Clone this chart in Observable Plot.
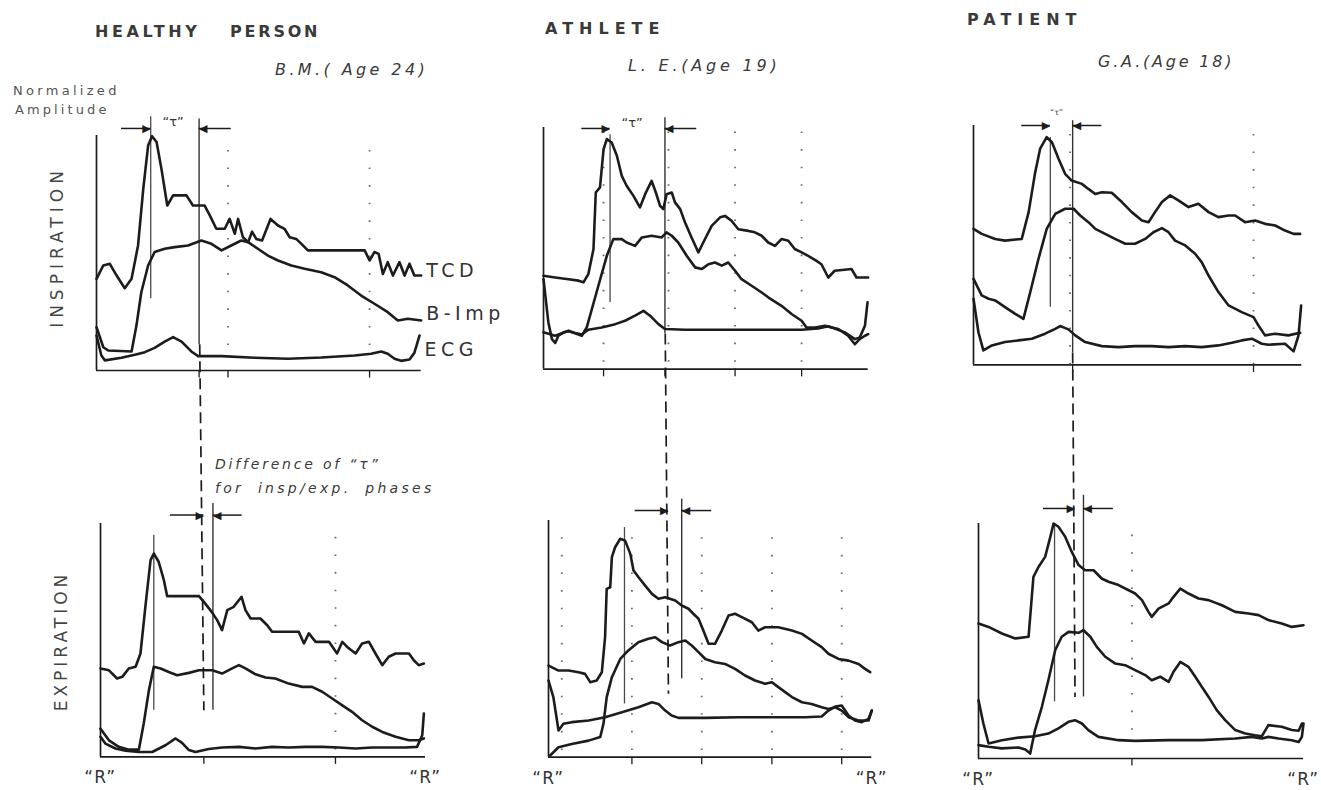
<!DOCTYPE html>
<html><head><meta charset="utf-8">
<script src="https://cdn.jsdelivr.net/npm/d3@7"></script>
<script src="https://cdn.jsdelivr.net/npm/@observablehq/plot@0.6"></script>
<style>
html,body{margin:0;padding:0;background:#fff;}
#page{position:relative;width:1321px;height:790px;overflow:hidden;font-family:"DejaVu Sans",sans-serif;color:#3a3a3a;}
.lbl{position:absolute;white-space:pre;line-height:1;}
</style></head><body><div id="page"></div>
<script>
// ---------- DATA (x = % of R–R interval, y = normalized amplitude %) ----------
const seriesNames = ["TCD", "B-Imp", "ECG"];
const subjectTitles = ["HEALTHY", "PERSON", "ATHLETE", "PATIENT"];
const subjectIds = ["B.M.( Age 24)", "L. E.(Age 19)", "G.A.(Age 18)"];
const phaseNames = ["INSPIRATION", "EXPIRATION"];
const axisNote = ["Normalized", "Amplitude"];
const diffNote = ["Difference of \u201C\u03C4\u201D", "for insp/exp. phases"];
const tauLabel = "\u201C\u03C4\u201D";
const rLabel = "\u201CR\u201D";

const healthyInspTCD = [[0,39],[2.1,44.7],[4.1,45.4],[6.2,40.4],[8.7,35],[10.8,39],[12.8,53.2],[14.4,77.3],[15.9,95.7],[17.1,99.7],[18.5,97.2],[20,85.8],[21.8,70.2],[23.6,74.5],[27.7,74.5],[29.7,70.2],[33.3,70.2],[34.9,66],[36.9,60.3],[39.5,60.3],[41,64.5],[42.6,58.2],[43.6,64.5],[45.1,56.7],[46.7,54.6],[47.9,59.1],[49.2,56],[51,55.3],[53.6,64.5],[55.9,61.7],[57.9,60.3],[59.5,56.7],[61.5,56],[63.1,53.9],[65.1,51.1],[82.6,51.1],[84.1,46.8],[85.6,50.4],[86.9,49.6],[88.2,41.1],[89.7,46.1],[91.3,40.4],[93.3,46.1],[94.9,40.4],[96.4,45.4],[97.9,40.4],[100,40.4]];
const healthyInspBImp = [[0,18.4],[2.1,9.9],[3.6,8.5],[10.8,8.1],[12.3,19.1],[13.8,33.3],[15.9,44.7],[17.9,50.4],[21,51.8],[24.1,52.5],[28.2,53.2],[32.3,55.3],[35.4,53.9],[38.5,51.1],[41.5,53.2],[44.6,55.3],[46.7,54.6],[49.7,51.8],[52.8,48.9],[55.9,46.8],[60,44.7],[64.1,43.3],[69.2,41.8],[73.3,39.7],[77.4,36.2],[81.5,31.9],[85.6,28.4],[89.7,24.8],[92.8,21.3],[95.9,22],[100,21.3]];
const healthyInspECG = [[0,14.9],[1.5,6.4],[2.6,4.3],[7.7,5.4],[11.8,6.7],[14.9,7.8],[17.9,9.6],[21,12.3],[23.6,14.2],[26.2,12.3],[29.2,8.1],[31.3,6.1],[38.5,6.1],[48.7,5.4],[59,5],[69.2,5.5],[79.5,6.4],[84.6,7.1],[87.7,8.1],[89.7,7.1],[91.8,5],[93.8,4.1],[96.4,4.7],[97.9,7.5],[99.5,14.9]];

const athleteInspTCD = [[0,38.6],[3.6,37.9],[7.7,37.2],[10.8,36.6],[12.3,35.9],[13.8,39.3],[15.4,49.7],[16.1,73.1],[17.4,75.2],[18.5,91],[19.5,95.2],[21,93.8],[22.6,88.3],[24.1,80],[25.6,75.9],[27.7,71.7],[29.7,66.9],[31.3,72.4],[33.3,77.9],[34.6,73.1],[35.9,67.6],[36.9,66.2],[37.9,72.4],[39.5,73.1],[40.5,69],[42.1,66.2],[43.6,60.7],[45.6,54.5],[47.7,48.3],[49.2,52.4],[51.8,59.3],[54.4,62.8],[55.9,63.4],[57.9,61.4],[60,57.9],[63.1,57.2],[65.1,56.6],[67.2,55.2],[69.2,52.4],[71.3,51],[73.3,53.8],[75.4,53.1],[77.4,49.7],[79.5,48.3],[81.5,46.9],[84.1,44.8],[85.6,43.4],[87.7,37.9],[89.7,40.7],[94.9,41.4],[96.4,37.9],[100,37.9]];
const athleteInspBImp = [[0,15.2],[3.6,13.8],[7.7,15.9],[11.8,13.8],[13.3,17.2],[16.9,34.5],[19.5,46.9],[21.5,53.8],[24.1,53.8],[25.6,52.4],[28.2,51],[30.3,54.5],[33.3,55.2],[36.4,54.5],[37.9,56.6],[39.5,55.2],[41.5,52.4],[44.1,46.9],[46.7,42.1],[48.7,41.4],[50.8,43.4],[52.8,44.1],[54.9,42.8],[56.9,44.1],[59,40.7],[61,37.2],[64.1,34.5],[67.2,31.7],[69.2,29.7],[73.3,26.2],[76.4,22.8],[79.5,20],[81,17.2],[83.6,17.2],[86.7,17.9],[88.7,17.2],[90.8,16.6],[93.8,13.8],[95.9,10.3],[97.4,12.4],[99,13.8],[100,14.5]];
const athleteInspECG = [[0,37.2],[1.5,19.3],[2.6,12.4],[3.6,10.8],[4.6,13.8],[6.2,15.2],[7.7,15.7],[9.7,14.9],[11.8,14.3],[13.8,16.3],[17.9,17.2],[22.1,18.6],[25.1,20],[28.2,22.1],[30.8,24.1],[32.8,22.1],[35.4,18.6],[37.4,16.6],[43.6,16.3],[59,16.3],[79.5,16.3],[84.6,16.8],[87.7,17.7],[89.7,16.8],[92.8,15.2],[95.9,12.4],[97.4,13.1],[99,17.9],[99.8,27.6]];

const patientInspTCD = [[0,56.8],[2.5,54.7],[6.6,52.6],[9.6,51.9],[14.7,52.6],[16.8,63.8],[18.8,80.5],[20.3,90.3],[22.3,95.1],[23.9,93],[25.9,86.1],[27.9,79.8],[29.9,77],[33,75.6],[35,73.5],[37.1,71.4],[39.1,72.1],[42.1,71.9],[45.2,68],[48.2,63.8],[51.3,60.3],[53.3,59.6],[55.3,63.8],[57.4,68],[59.9,70.8],[62.4,68.7],[65.5,65.9],[68.5,67.3],[71.6,63.8],[74.6,61.7],[77.7,62.4],[79.7,62.4],[82.7,59.6],[85.8,60.3],[88.8,58.9],[91.9,58.2],[94.9,56.1],[97.5,54.7],[99.5,54.7]];
const patientInspBImp = [[0,35.9],[2.5,29],[4.6,27.6],[6.6,26.9],[9.6,24.1],[12.7,21.3],[15.2,19.2],[17.3,30.4],[19.8,44.3],[22.3,56.8],[24.9,63.1],[27.9,65.2],[30.5,65.2],[32.5,62.4],[35,59.6],[37.1,56.8],[40.1,54.7],[43.1,52.6],[46.2,50.6],[49.2,50.6],[52.3,52.6],[54.8,55.4],[57.4,57.1],[59.4,55.4],[61.4,51.9],[64.5,49.9],[67.5,46.4],[69.5,42.9],[71.6,37.3],[74.6,30.4],[77.7,24.8],[81.7,22],[85.3,19.9],[86.8,16.4],[88.8,12.3],[91.9,13],[95.9,12.3],[99.5,13.4]];
const patientInspECG = [[0,27.6],[1.5,13.6],[3,6],[5.6,8.1],[9.6,9.5],[13.7,10.2],[17.8,10.9],[21.8,13],[24.9,15],[26.4,16.2],[28.9,14.8],[31,12.3],[34,9.5],[39.1,7.8],[44.2,7.4],[49.2,7.8],[54.3,7.8],[59.4,7.4],[64.5,7.8],[69.5,7.4],[74.6,8.1],[78.7,9.2],[81.7,10.2],[84.8,10.9],[87.8,8.8],[89.8,8.4],[94.9,8.8],[97.5,5.6],[99,12.3],[99.8,24.8]];

const healthyExpTCD = [[0,37.9],[2.6,37.1],[5.1,33.6],[6.7,34.3],[8.7,37.9],[10.8,38.6],[12.3,44.3],[13.8,64.3],[15.4,84.3],[16.4,87.1],[17.9,83.6],[19.5,75.7],[20.5,68.9],[23.1,68.9],[30.3,68.9],[31.8,66.4],[33.8,62.9],[35.9,58.6],[37.4,54.3],[39,62.9],[41,64.3],[43.4,68.6],[44.6,62.9],[46.2,59.3],[49.2,59.3],[51.3,56.4],[52.8,53.6],[61,53.6],[62.6,48.6],[64.1,52.9],[66.2,49.3],[70.3,49.3],[72.8,44.3],[74.4,49.3],[75.9,47.1],[78.5,44.3],[80.5,48.6],[82.6,49.3],[84.6,44.3],[86.7,39.3],[88.7,42.9],[90.8,44.3],[94.9,44.3],[96.4,41.4],[97.9,39.3],[99.5,40]];
const healthyExpBImp = [[0,12.1],[2.6,7.1],[5.6,4.3],[8.7,3.1],[11.8,3.1],[13.3,14.3],[14.9,28.6],[16.4,38.6],[18.5,37.9],[21,36.4],[23.6,35],[27.2,36],[30.3,37.1],[34.4,37.1],[37.4,35.7],[40.5,37.9],[42.6,39.3],[44.6,37.9],[47.7,35.4],[50.8,34],[53.8,33.6],[57.9,31.4],[62.1,30],[65.1,30],[68.2,27.9],[71.3,25],[74.4,22.1],[77.4,19.3],[80.5,15.7],[83.6,12.9],[86.7,10.7],[90.8,8.6],[94.9,7.1],[97.9,7.1],[99.5,7.9]];
const healthyExpECG = [[0,8.6],[1.5,5.7],[4.6,3.6],[7.7,2.6],[11.8,2.1],[15.9,2.1],[20,5],[23.1,7.9],[25.1,6],[27.2,2.9],[29.2,2.1],[33.3,3.4],[37.4,4],[42.6,4.3],[47.7,3.6],[52.8,4.3],[57.9,4],[63.1,4.3],[68.2,4.3],[73.3,4],[78.5,3.6],[83.6,4],[88.7,4],[93.8,4],[97.4,4.3],[99,9.3],[99.5,18.6]];

const athleteExpTCD = [[0,38.7],[3.1,36.6],[6.2,36.6],[9.3,35.9],[11.3,35.2],[12.9,31.7],[14.9,32.4],[16.5,35.9],[17.5,50.7],[18,71.1],[19.1,71.8],[19.6,84.5],[20.6,88.7],[22.2,92.3],[23.7,91.5],[25.3,85.9],[26.3,78.9],[27.8,76.1],[29.9,72.5],[32,69],[34,66.9],[36.1,67.6],[39.2,66.2],[41.2,64.1],[43.3,62.7],[44.8,60.6],[46.4,58.5],[47.9,53.5],[49.5,47.9],[51.5,47.9],[53.6,53.5],[55.7,59.9],[57.7,60.6],[59.8,59.2],[62.9,57],[64.9,53.5],[67,54.9],[71.1,54.9],[75.3,53.5],[78.4,52.1],[81.4,49.3],[84.5,46.5],[86.6,43.7],[89.7,41.5],[92.8,40.8],[95.9,39.4],[97.9,37.3],[99.5,35.9]];
const athleteExpBImp = [[0.5,0.7],[3.1,4.2],[7.2,5.6],[12.4,7],[16,8.5],[17,14.1],[18,25.4],[19.6,33.8],[22.2,41.5],[24.7,45.1],[27.8,48.6],[30.9,50],[33,50.7],[35.1,48.6],[37.6,47.2],[40.2,48.6],[42.3,49.3],[44.3,47.2],[46.4,44.4],[48.5,41.5],[51.5,40.1],[54.6,39.4],[57.7,37.3],[60.8,34.5],[63.9,32.4],[67,31],[69.1,31.7],[71.1,29.6],[73.2,27.5],[75.3,25.4],[78.4,23.2],[81.4,22.5],[84.5,21.1],[86.6,20.4],[88.7,21.1],[90.7,19.7],[92.8,16.9],[95.9,15.5],[99,15.5],[100,19.7]];
const athleteExpECG = [[0,32.4],[1.5,25.4],[3.1,11.3],[4.6,14.1],[7.2,14.8],[12.4,15.5],[17.5,16.9],[22.7,19],[27.8,21.1],[32,23.2],[34,22.5],[36.1,19.7],[38.1,17.6],[40.2,16.6],[48.5,16.6],[58.8,16.9],[69.1,16.9],[79.4,16.9],[84.5,17.2],[86.6,19.7],[88.7,21.4],[90.7,21.8],[92.8,17.6],[94.8,15.5],[96.9,14.8],[99,16.2],[100,19.7]];

const patientExpTCD = [[0,57.4],[3.1,56],[7.2,53.2],[11.3,51.1],[15.4,51.8],[16.9,77.3],[18.5,81.6],[20.5,85.8],[22.1,94.3],[23.1,100],[24.6,98.6],[26.7,94.3],[28.7,87.9],[30.8,82.3],[32.8,80.1],[35.4,80.1],[37.9,76.6],[40,75.2],[43.1,73.8],[46.2,71.6],[48.2,70.2],[50.3,67.4],[52.3,62.4],[53.3,60.3],[55.4,63.8],[58.5,66],[60,68.8],[62.1,72.3],[64.6,70.2],[67.7,68.1],[70.8,67.4],[74.9,65.2],[79,62.4],[83.1,61.7],[86.2,61],[89.2,58.9],[93.3,57.4],[96.4,56],[100,56.7]];
const patientExpBImp = [[0,5.7],[3.1,5],[7.2,4.3],[12.3,4.7],[14.4,3.8],[15.9,2.1],[17.4,12.1],[19.5,22],[21.5,33.3],[23.6,46.1],[25.6,51.8],[27.7,53.9],[30.8,53.5],[32.3,54.6],[34.4,51.8],[36.4,47.5],[39,43.3],[42.1,40.4],[45.1,39.7],[48.2,37.6],[51.3,35.5],[53.3,33.3],[55.9,34.8],[58.5,32.6],[60,36.9],[62.1,41.1],[64.6,39],[66.7,34.8],[68.7,30.5],[70.8,26.2],[73.3,20.6],[75.9,16.3],[79,12.1],[82.1,10.6],[85.1,9.9],[87.2,9.5],[89.2,14.2],[93.3,13.5],[96.4,12.1],[98.5,11.8],[99.5,14.9]];
const patientExpECG = [[0,24.8],[1.5,14.9],[3.1,6.4],[7.2,7.8],[12.3,8.9],[17.4,9.5],[21.5,10.6],[24.6,12.8],[27.7,15.6],[29.7,16.3],[31.8,14.9],[33.8,12.1],[36.9,9.2],[43.1,7.8],[48.2,7.5],[58.5,7.8],[68.7,7.8],[79,8.5],[84.1,9.2],[87.2,8.5],[89.2,9.2],[92.3,8.5],[96.4,7.8],[98.5,7],[99.5,9.2],[100,14.9]];

// panel order: healthy insp, athlete insp, patient insp, healthy exp, athlete exp, patient exp
const peakTimes      = [16.7, 20.5, 23.4, 16.4, 23.5, 23.4];
const peakMarkTop    = [108, 97, 95, 95, 97, 100];
const peakMarkBottom = [30.5, 27.6, 24.1, 20, 22.5, 24.1];
const tEndTimes      = [31.6, 37.4, 30.2, 34.6, 41.2, 32.3];
const tEndTop        = [107, 104, 102, 108.6, 109, 112];
const tEndBottom     = [11, 14.6, 5, 20, 33.1, 26.2];
const inspRefTimes   = [31.8, 37.1, 29.7];          // insp. "t" end carried into the expiration panels
const inspRefBottom  = [20, 26.8, 26.2];
const dottedTimes    = [[40.5, 84.1], [18.5, 38.5, 59, 79.5], [29.4, 85.3], [72.3], [4.1, 25.8, 47.4, 69.1, 90.7], [47.2]];
const dottedTop      = [94, 100.7, 100, 94.3, 94.4, 100];
const dottedBottom   = [10.6, 2.8, 0, 2.9, 2.8, 12];
const tickTimes      = [[31.6, 40.5, 84.1], [18.5, 37.4, 59, 79.5], [30.2, 85.3], [31.8, 72.3], [25.8, 47.4, 69.1, 90.7], [47.2]];
const arrowLevel     = [103, 99.6, 100, 103.6, 104.2, 106.4];
const arrowLeftFrom  = [7.7, 11.8, 14.7, 21.5, 26.8, 20];
const arrowRightFrom = [41.5, 47.2, 39.1, 43.6, 50.5, 41.5];
const tauX = [23.6, 27.3, 25.3];
const tauY = [106, 102, 105.4];

// ---------- LAYOUT ----------
const frames = [
  {L: 96.3, R: 421, T: 135, B: 370},
  {L: 543.3, R: 868, T: 126.7, B: 368.3},
  {L: 973, R: 1301.3, T: 125, B: 364.3},
  {L: 99.7, R: 424.7, T: 523.3, B: 756.7},
  {L: 548, R: 871.3, T: 520, B: 756.7},
  {L: 978, R: 1303, T: 523.3, B: 758.3}
];
const panelSeries = [
  [healthyInspTCD, healthyInspBImp, healthyInspECG],
  [athleteInspTCD, athleteInspBImp, athleteInspECG],
  [patientInspTCD, patientInspBImp, patientInspECG],
  [healthyExpTCD, healthyExpBImp, healthyExpECG],
  [athleteExpTCD, athleteExpBImp, athleteExpECG],
  [patientExpTCD, patientExpBImp, patientExpECG]
];
const ink = "#1c1c1c";
const FONT = "DejaVu Sans, sans-serif";
const page = document.getElementById("page");

panelSeries.forEach((arrs, i) => {
  const f = frames[i];
  const isTop = i < 3;
  const mL = 24, mR = 24, mB = 34, mT = isTop ? 44 : 215;
  const rows = arrs.flatMap((a, s) => a.map(([x, y]) => ({x, y, series: seriesNames[s]})));
  const leftTarget = isTop ? peakTimes[i] : inspRefTimes[i - 3];
  const marks = [
    // axes
    Plot.ruleX([0], {y1: 0, y2: 100, stroke: ink, strokeWidth: 1.7}),
    Plot.ruleY([0], {x1: 0, x2: 100, stroke: ink, strokeWidth: 1.7}),
    Plot.ruleX(tickTimes[i], {y1: 0, y2: -3.2, stroke: ink, strokeWidth: 1.3}),
    // dotted time markers
    Plot.ruleX(dottedTimes[i], {y1: dottedBottom[i], y2: dottedTop[i], stroke: "#6a6a6a", strokeWidth: 1.8, strokeDasharray: "1.6 16"}),
    // peak marker and "t" end marker
    Plot.ruleX([peakTimes[i]], {y1: peakMarkBottom[i], y2: peakMarkTop[i], stroke: "#4a4a4a", strokeWidth: 1.3}),
    Plot.ruleX([tEndTimes[i]], {y1: tEndBottom[i], y2: tEndTop[i], stroke: "#333", strokeWidth: 1.4}),
    // traces
    Plot.line(rows, {x: "x", y: "y", z: "series", stroke: ink, strokeWidth: 2.6, strokeLinejoin: "round"}),
    // arrows
    Plot.ruleY([arrowLevel[i]], {x1: arrowLeftFrom[i], x2: leftTarget, stroke: ink, strokeWidth: 1.5}),
    Plot.ruleY([arrowLevel[i]], {x1: arrowRightFrom[i], x2: tEndTimes[i], stroke: ink, strokeWidth: 1.5}),
    Plot.text([{x: leftTarget, y: arrowLevel[i]}], {x: "x", y: "y", text: () => "\u25B6", textAnchor: "end", fontSize: 11, fill: ink, fontFamily: FONT}),
    Plot.text([{x: tEndTimes[i], y: arrowLevel[i]}], {x: "x", y: "y", text: () => "\u25C0", textAnchor: "start", fontSize: 11, fill: ink, fontFamily: FONT})
  ];
  if (isTop) {
    marks.push(Plot.text([{x: tauX[i], y: tauY[i]}], {x: "x", y: "y", text: () => tauLabel, fontSize: i === 2 ? 8 : 13, fill: "#333", fontFamily: FONT}));
  } else {
    const c = i - 3, ft = frames[c];
    const pageX = ft.L + tEndTimes[c] / 100 * (ft.R - ft.L);
    const pageY = ft.B - tEndBottom[c] / 100 * (ft.B - ft.T);
    const link = {x1: (pageX - f.L) / (f.R - f.L) * 100, y1: (f.B - pageY) / (f.B - f.T) * 100, x2: inspRefTimes[c], y2: inspRefBottom[c]};
    marks.push(Plot.link([link], {x1: "x1", y1: "y1", x2: "x2", y2: "y2", stroke: ink, strokeWidth: 1.7, strokeDasharray: "11 6"}));
    marks.push(Plot.text([0, 100], {x: d => d, y: 0, text: () => rLabel, dy: 21, fontSize: 17, fill: "#333", fontFamily: FONT}));
  }
  if (i === 0) {
    const dys = [-5, -7, 14];
    arrs.forEach((a, s) => {
      const last = a[a.length - 1];
      marks.push(Plot.text([{x: last[0], y: last[1], t: seriesNames[s]}], {x: "x", y: "y", text: "t", textAnchor: "start", dx: 5, dy: dys[s], fontSize: 19, fill: "#333", fontFamily: FONT}));
    });
  }
  const svg = Plot.plot({
    width: (f.R - f.L) + mL + mR,
    height: (f.B - f.T) + mT + mB,
    marginLeft: mL, marginRight: mR, marginTop: mT, marginBottom: mB,
    x: {domain: [0, 100], axis: null},
    y: {domain: [0, 100], axis: null},
    marks
  });
  Object.assign(svg.style, {position: "absolute", left: (f.L - mL) + "px", top: (f.T - mT) + "px", background: "transparent", overflow: "visible", maxWidth: "none"});
  svg.querySelectorAll("text").forEach(t => {
    if (seriesNames.includes(t.textContent)) t.style.letterSpacing = "4.5px";
    else if (t.textContent === rLabel) t.style.letterSpacing = "1.5px";
  });
  page.appendChild(svg);
});

// ---------- TEXT ----------
function label(text, x, baseline, size, extra) {
  const d = document.createElement("div");
  d.className = "lbl";
  d.textContent = text;
  d.style.left = x + "px";
  d.style.top = (baseline - 0.846 * size) + "px";
  d.style.fontSize = size + "px";
  Object.assign(d.style, extra || {});
  page.appendChild(d);
}
function vlabel(text, cx, cy, size, extra) {
  const d = document.createElement("div");
  d.className = "lbl";
  d.textContent = text;
  Object.assign(d.style, {left: cx + "px", top: cy + "px", fontSize: size + "px", transform: "translate(-50%,-50%) rotate(-90deg)"}, extra || {});
  page.appendChild(d);
}
const bold = {fontWeight: "bold", color: "#3a3a3a"};
label(subjectTitles[0], 95, 38, 16, {...bold, letterSpacing: "3.6px"});
label(subjectTitles[1], 230, 38, 16, {...bold, letterSpacing: "2.8px"});
label(subjectTitles[2], 545, 35, 16, {...bold, letterSpacing: "6px"});
label(subjectTitles[3], 967, 26, 16, {...bold, letterSpacing: "6px"});
const ital = {fontStyle: "italic", color: "#3a3a3a"};
label(subjectIds[0], 275, 76, 16, {...ital, letterSpacing: "3.4px"});
label(subjectIds[1], 628, 72, 16, {...ital, letterSpacing: "3.8px"});
label(subjectIds[2], 1098, 68, 16, {...ital, letterSpacing: "2.8px"});
label(axisNote[0], 13, 95, 13, {color: "#555", letterSpacing: "3.3px"});
label(axisNote[1], 15, 114, 13, {color: "#555", letterSpacing: "3.1px"});
vlabel(phaseNames[0], 57, 247, 17, {color: "#444", letterSpacing: "5px"});
vlabel(phaseNames[1], 61, 641, 17, {color: "#444", letterSpacing: "4px"});
label(diffNote[0], 215, 469, 14, {...ital, letterSpacing: "2.8px"});
label(diffNote[1], 215, 493, 14, {...ital, letterSpacing: "3.3px", wordSpacing: "6px"});
</script></body></html>
